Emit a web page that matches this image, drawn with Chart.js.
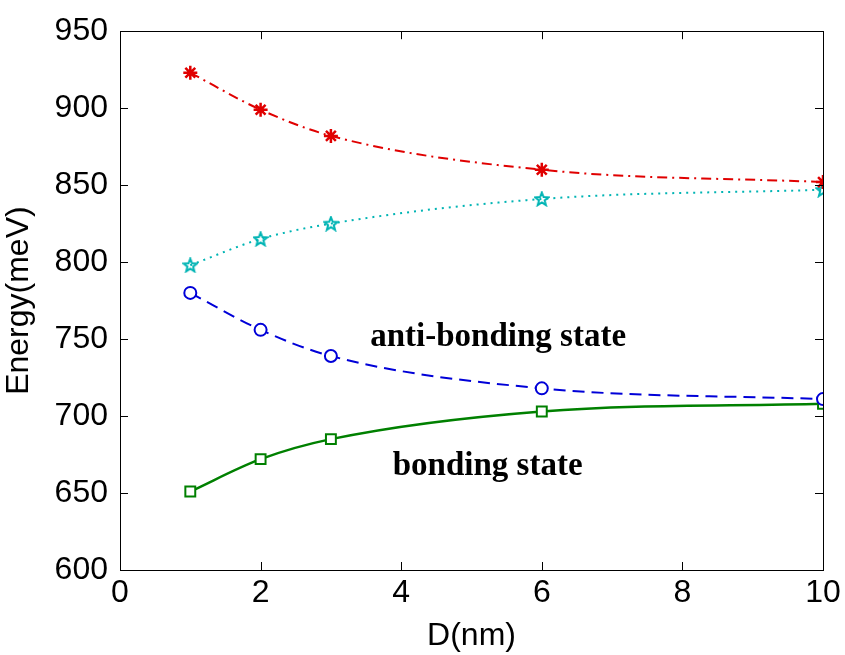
<!DOCTYPE html>
<html>
<head>
<meta charset="utf-8">
<script src="https://cdn.jsdelivr.net/npm/chart.js@4"></script>
<style>
  html, body { margin: 0; padding: 0; background: #fff; }
  #wrap { width: 845px; height: 655px; }
</style>
</head>
<body>
<div id="wrap"><canvas id="grafico" width="845" height="655"></canvas></div>
<script>
const distancias = [1, 2, 3, 6, 10];
const serieRoja = [923, 899, 882, 860, 852];
const serieCian = [798, 815, 825, 841, 847];
const serieAzul = [780, 756, 739, 718, 711];
const serieVerde = [651, 672, 685, 703, 708];
const ticksX = [0, 2, 4, 6, 8, 10];
const ticksY = [600, 650, 700, 750, 800, 850, 900, 950];
const etiquetas = [
  { texto: "anti-bonding state", x: 3.56, y: 745.5 },
  { texto: "bonding state", x: 3.88, y: 661.5 }
];

const FUENTE = "'Liberation Sans', Arial, sans-serif";

function crearPentagrama(color) {
  const c = document.createElement("canvas");
  c.width = 16;
  c.height = 16;
  const ctx = c.getContext("2d");
  ctx.beginPath();
  for (let i = 0; i < 10; i++) {
    const r = i % 2 === 0 ? 7 : 3;
    const ang = -Math.PI / 2 + i * Math.PI / 5;
    const px = 8 + r * Math.cos(ang);
    const py = 8.5 + r * Math.sin(ang);
    if (i === 0) ctx.moveTo(px, py); else ctx.lineTo(px, py);
  }
  ctx.closePath();
  ctx.strokeStyle = color;
  ctx.lineWidth = 2;
  ctx.stroke();
  return c;
}

function puntos(valores) {
  return distancias.map((d, i) => ({ x: d, y: valores[i] }));
}

// marco, ticks hacia adentro y textos sobre el grafico
const marcoYTicks = {
  id: "marcoYTicks",
  afterDatasetsDraw(chart) {
    const { ctx, chartArea, scales } = chart;
    const { left, right, top, bottom } = chartArea;
    ctx.save();
    ctx.strokeStyle = "#000";
    ctx.lineWidth = 1;
    ctx.beginPath();
    ticksX.forEach(v => {
      const px = Math.round(scales.x.getPixelForValue(v)) + 0.5;
      ctx.moveTo(px, bottom); ctx.lineTo(px, bottom - 8);
      ctx.moveTo(px, top); ctx.lineTo(px, top + 8);
    });
    ticksY.forEach(v => {
      const py = Math.round(scales.y.getPixelForValue(v)) + 0.5;
      ctx.moveTo(left, py); ctx.lineTo(left + 8, py);
      ctx.moveTo(right, py); ctx.lineTo(right - 8, py);
    });
    ctx.stroke();
    ctx.strokeRect(Math.round(left) + 0.5, Math.round(top) + 0.5,
      Math.round(right - left), Math.round(bottom - top));

    ctx.fillStyle = "#000";
    ctx.font = "bold 33px 'Liberation Serif', 'Times New Roman', serif";
    ctx.textBaseline = "alphabetic";
    ctx.textAlign = "left";
    etiquetas.forEach(e => {
      ctx.fillText(e.texto, scales.x.getPixelForValue(e.x), scales.y.getPixelForValue(e.y));
    });
    ctx.restore();
  }
};

new Chart(document.getElementById("grafico"), {
  type: "line",
  data: {
    datasets: [
      {
        data: puntos(serieRoja),
        borderColor: "#e00000",
        backgroundColor: "#e00000",
        borderWidth: 2,
        borderDash: [10, 5, 2, 5],
        pointStyle: "star",
        pointRadius: 7,
        pointBorderWidth: 2.5,
        cubicInterpolationMode: "monotone"
      },
      {
        data: puntos(serieCian),
        borderColor: "#00b4b4",
        backgroundColor: "#00b4b4",
        borderWidth: 2,
        borderDash: [2, 5],
        pointStyle: crearPentagrama("#00b4b4"),
        cubicInterpolationMode: "monotone"
      },
      {
        data: puntos(serieAzul),
        borderColor: "#0000d8",
        backgroundColor: "#ffffff",
        borderWidth: 2,
        borderDash: [12, 7],
        pointStyle: "circle",
        pointRadius: 6,
        pointBorderWidth: 2,
        cubicInterpolationMode: "monotone"
      },
      {
        data: puntos(serieVerde),
        borderColor: "#008000",
        backgroundColor: "#ffffff",
        borderWidth: 2.5,
        pointStyle: "rect",
        pointRadius: 7,
        pointBorderWidth: 2,
        cubicInterpolationMode: "monotone"
      }
    ]
  },
  options: {
    responsive: false,
    animation: false,
    layout: { padding: { top: 25, right: 22, left: 0, bottom: 0 } },
    plugins: {
      legend: { display: false },
      tooltip: { enabled: false }
    },
    scales: {
      x: {
        type: "linear",
        min: 0,
        max: 10,
        afterBuildTicks: scale => { scale.ticks = ticksX.map(v => ({ value: v })); },
        afterFit: scale => { scale.height = 85; },
        grid: { display: false, drawTicks: false },
        border: { display: false },
        ticks: { color: "#000", padding: 4, font: { family: FUENTE, size: 32 } },
        title: {
          display: true,
          text: "D(nm)",
          color: "#000",
          padding: { top: 0, bottom: 0 },
          font: { family: FUENTE, size: 32 }
        }
      },
      y: {
        min: 600,
        max: 950,
        afterBuildTicks: scale => { scale.ticks = ticksY.map(v => ({ value: v })); },
        afterFit: scale => { scale.width = 120; },
        grid: { display: false, drawTicks: false },
        border: { display: false },
        ticks: { color: "#000", padding: 12, font: { family: FUENTE, size: 32 } },
        title: {
          display: true,
          text: "Energy(meV)",
          color: "#000",
          padding: { top: 0, bottom: 0 },
          font: { family: FUENTE, size: 32 }
        }
      }
    }
  },
  plugins: [marcoYTicks]
});
</script>
</body>
</html>
